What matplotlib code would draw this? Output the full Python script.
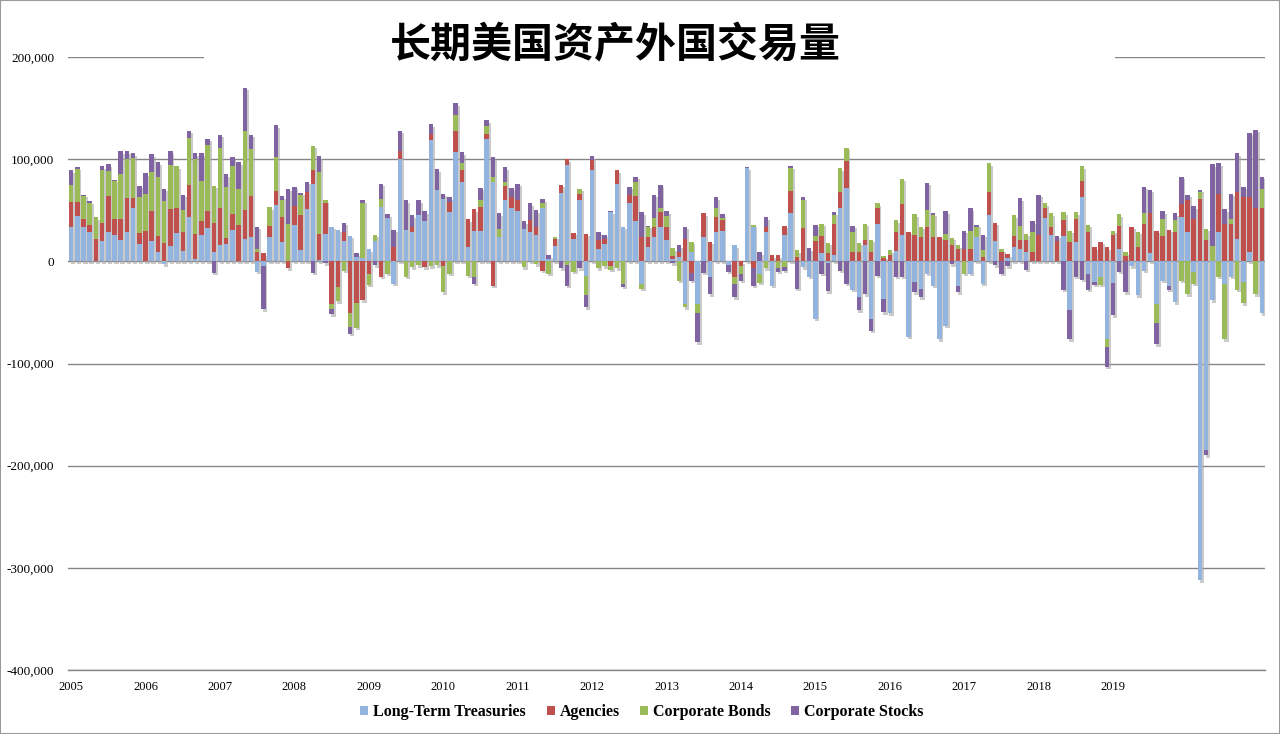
import numpy as np
import matplotlib
matplotlib.use("Agg")
import matplotlib.pyplot as plt
from matplotlib.patches import Rectangle

plt.rcParams['font.family'] = ['Liberation Serif', 'DejaVu Serif']

# monthly values, Jan 2005 .. Jan 2021 (thousands)
years = ["2005", "2006", "2007", "2008", "2009", "2010", "2011", "2012",
         "2013", "2014", "2015", "2016", "2017", "2018", "2019"]

treasuries = [34, 44, 34, 29, 0, 20, 29, 26, 21, 29, 52, 17,
              0, 20, 9, -3, 15, 28, 10, 43, 2, 26, 33, 9,
              16, 17, 31, 0, 22, 24, -10, -5, 24, 55, 19, 0,
              36, 11, 51, 76, 1, 27, 34, 31, 20, 25, 4, 3,
              12, 20, 53, 42, -22, 100, 31, 29, 45, 39, 119, 70,
              61, 48, 107, 78, 14, 30, 30, 120, 78, 24, 60, 52,
              49, 32, 29, 26, 52, 2, 15, 67, 94, 22, 60, -14,
              89, 12, 17, 48, 76, 34, 57, 39, -22, 14, 24, 34,
              21, 2, 4, -42, 9, -42, 24, -15, 29, 30, -4, 16,
              0, 91, 34, -12, 29, -24, 0, 26, 47, 0, -6, -15,
              -56, 8, -2, 6, 52, 72, -28, -35, 16, -56, 37, -37,
              -51, 10, 26, -74, -20, -27, -12, -24, -76, -63, 0, -24,
              0, -12, 24, -22, 45, 20, 0, 3, 14, 12, 9, 0,
              0, 42, 26, 0, 25, -48, 19, 63, -12, -20, -15, -76,
              -21, 12, 0, -5, -33, -9, 8, -42, -19, -24, -40, 43,
              29, -10, -312, -185, -38, 29, -22, -15, 22, -20, 9, 0,
              -51]

agencies = [24, 14, 7, 7, 22, 18, 35, 15, 20, 33, 10, 11,
            30, 29, 16, 18, 36, 24, 19, 32, 25, 13, 16, 29,
            36, 6, 15, 36, 28, 40, 9, 8, 11, 14, 24, -7,
            18, 34, 17, 13, 26, 30, -42, -25, 9, -51, -41, -38,
            -12, 0, -15, 0, 14, 8, 0, 5, 0, -6, 6, 0,
            -5, 10, 21, 11, 27, 21, 23, 5, -24, 0, 14, 11,
            11, 0, 11, 8, -9, 0, 7, 8, 6, 6, 6, 27,
            10, 9, 5, -5, 13, 0, 8, 25, 24, 10, 10, 14,
            13, 3, 5, 22, -11, 0, 23, 19, 14, 10, 0, -15,
            -5, 0, -7, 0, 5, 6, 6, 9, 22, 4, 33, 0,
            20, 17, 8, 31, 16, 26, 9, 9, 5, 9, 15, 3,
            6, 19, 30, 29, 26, 24, 34, 24, 24, 21, 16, 12,
            12, 12, 0, 4, 23, 18, 9, 4, 11, 9, 12, 9,
            26, 10, 8, 20, 15, 19, 22, 16, 29, 14, 19, 14,
            26, 23, 5, 34, 14, 37, 39, 30, 25, 31, 29, 13,
            31, 41, 61, 21, 0, 37, 37, 37, 46, 63, 54, 52,
            52]

corp_bonds = [17, 32, 23, 21, 21, 51, 24, 38, 44, 38, 39, 35,
              36, 38, 58, 41, 43, 41, 21, 46, 73, 40, 65, 36,
              59, 50, 47, 35, 78, 46, 3, 0, 18, 33, 17, 37,
              0, 20, 0, 24, 60, 3, -5, -14, -9, -13, -24, 54,
              -11, 6, 8, -12, 0, 0, -15, -6, -4, 0, -5, -4,
              -25, -12, 15, 7, -14, -15, 7, 7, 5, 8, 4, 0,
              0, -6, 0, -3, 5, -12, 2, 0, -4, -10, 5, -19,
              0, -7, -5, -3, -7, -22, 0, 14, -5, 10, 8, 4,
              10, 8, -19, -3, 10, -9, 0, 0, 9, 2, 0, -7,
              -7, 0, 2, -9, -7, 0, -7, -6, 22, 7, 27, 0,
              5, 12, 10, 8, 23, 13, 20, 9, 16, 12, 5, 2,
              5, 11, 25, 0, 20, 10, 16, 21, 0, 6, 7, 4,
              -12, 18, 10, 7, 28, 0, 3, 0, 20, 14, 6, 20,
              0, 5, 13, 0, 8, 11, 7, 14, 7, 0, -8, -8,
              4, 11, 4, 0, 15, 10, 0, -18, 16, 0, 11, -19,
              -32, -12, 7, 11, 15, -15, -54, 4, -28, -21, 0, -32,
              19]

corp_stocks = [14, 2, 1, 2, 0, 4, 7, 1, 23, 8, 5, 11,
               20, 18, 14, 12, 14, 0, 15, 7, 6, 27, 6, -11,
               13, 12, 9, 26, 42, 14, 22, -42, 0, 31, 4, 34,
               19, 2, 10, -11, 16, -2, -5, 0, 9, -7, 4, 3,
               0, -4, 15, 4, 17, 20, 29, 11, 15, 10, 9, 20,
               5, 5, 12, 11, 0, -7, 12, 6, 19, 15, 14, 9,
               16, 7, 17, 16, 4, 4, 0, -7, -20, 0, -7, -12,
               4, 8, 4, 1, 0, -3, 8, 5, 24, 1, 23, 23,
               5, -2, 7, 12, -8, -28, -11, -17, 11, 4, -6, -13,
               -7, 1, -17, 9, 9, 0, -3, -3, 2, -27, 3, 13,
               11, -12, -27, 3, -9, -22, 6, -13, -32, -12, -14, -13,
               0, -15, -15, 0, -10, -8, 27, 2, 0, 22, -3, -6,
               18, 22, 2, 15, 0, -4, -12, -5, 0, 27, -8, 10,
               39, 0, 0, 5, -28, -28, -15, -18, -16, -3, 0, -19,
               -32, -10, -30, 0, 0, 26, 23, -21, 8, -4, 7, 27,
               5, 13, 2, -5, 80, 30, 14, 25, 38, 10, 63, 77,
               12]

names = ["Long-Term Treasuries", "Agencies", "Corporate Bonds", "Corporate Stocks"]
colors = ["#93B4DE", "#C0504D", "#9BBB59", "#8064A2"]
series = [treasuries, agencies, corp_bonds, corp_stocks]

fig = plt.figure(figsize=(12.8, 7.34), dpi=100)
ax = fig.add_axes([68 / 1280, 1 - 670 / 734, 1197 / 1280, 613 / 734])

x = np.arange(len(treasuries))
vals = [np.array(s) * 1000.0 for s in series]

# soft drop shadow behind each full bar
pos_tot = sum(np.where(v > 0, v, 0) for v in vals)
neg_tot = sum(np.where(v < 0, v, 0) for v in vals)
ax.bar(x + 0.3, pos_tot - neg_tot, 0.72, bottom=neg_tot - 2500,
       color="#a8a8a8", alpha=0.6, zorder=2, linewidth=0)

pos = np.zeros(len(x))
neg = np.zeros(len(x))
for v, c, n in zip(vals, colors, names):
    bottom = np.where(v >= 0, pos, neg)
    ax.bar(x, v, 0.72, bottom=bottom, color=c, label=n, zorder=3, linewidth=0)
    pos = pos + np.where(v >= 0, v, 0)
    neg = neg + np.where(v < 0, v, 0)

ax.set_xlim(-0.5, len(x) - 0.5)
ax.set_ylim(-400000, 200000)
yt = list(range(-400000, 200001, 100000))
ax.set_yticks(yt)
ax.set_yticklabels(["{:,}".format(t) for t in yt], fontsize=9.5)
ax.set_xticks(range(0, 12 * len(years), 12))
ax.set_xticklabels(years, fontsize=9)
ax.tick_params(axis="both", length=0)
ax.tick_params(axis="y", pad=10)
ax.tick_params(axis="x", pad=8)
for s in ax.spines.values():
    s.set_visible(False)
ax.set_axisbelow(True)
ax.yaxis.grid(True, color="#858585", linewidth=1.0)
ax.axhline(-400000, color="#858585", linewidth=1.0, clip_on=False, zorder=1)

# title box hides part of the top gridline
ax.add_patch(Rectangle((0.114, 0.98), 0.761, 0.04, transform=ax.transAxes,
                       facecolor="white", edgecolor="none", zorder=1.5, clip_on=False))
fig.text(615 / 1280, 1 - 45 / 734, "长期美国资产外国交易量", ha="center", va="center",
         fontsize=29.5, fontweight="bold", family=["Noto Sans CJK SC", "DejaVu Sans"])

handles, labels = ax.get_legend_handles_labels()
fig.legend(handles, labels, loc="center", bbox_to_anchor=(642 / 1280, 1 - 712 / 734),
           ncol=4, frameon=False, prop={"weight": "bold", "size": 11.5},
           handlelength=0.5, handleheight=0.5, handletextpad=0.3, columnspacing=1.3)

fig.patches.append(Rectangle((0, 0), 1, 1, transform=fig.transFigure, fill=False,
                             edgecolor="#9a9a9a", linewidth=1.5))

fig.savefig("out.png", dpi=100)
